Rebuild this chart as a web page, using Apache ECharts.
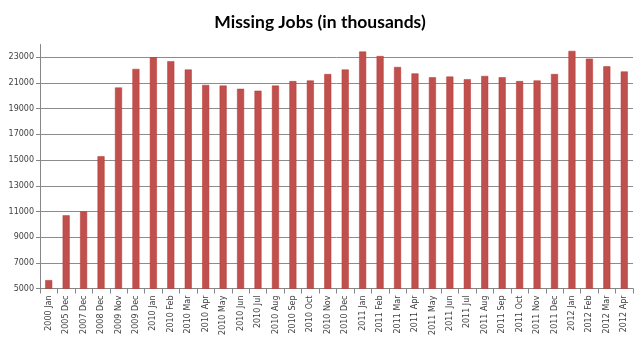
<!DOCTYPE html>
<html>
<head>
<meta charset="utf-8">
<script src="https://cdn.jsdelivr.net/npm/echarts@6/dist/echarts.min.js"></script>
<style>html,body{margin:0;padding:0;background:#fff;}#c{width:640px;height:343px;}</style>
</head>
<body>
<div id="c"></div>
<script>
const titleText = 'Missing Jobs (in thousands)';
const categories = ['2000 Jan','2005 Dec','2007 Dec','2008 Dec','2009 Nov','2009 Dec',
  '2010 Jan','2010 Feb','2010 Mar','2010 Apr','2010 May','2010 Jun','2010 Jul','2010 Aug','2010 Sep','2010 Oct','2010 Nov','2010 Dec',
  '2011 Jan','2011 Feb','2011 Mar','2011 Apr','2011 May','2011 Jun','2011 Jul','2011 Aug','2011 Sep','2011 Oct','2011 Nov','2011 Dec',
  '2012 Jan','2012 Feb','2012 Mar','2012 Apr'];
const missingJobs = [5650,10700,11000,15300,20650,22100,
  23000,22700,22050,20850,20800,20550,20400,20800,21150,21200,21700,22050,
  23450,23100,22250,21750,21450,21500,21300,21550,21450,21150,21200,21700,
  23500,22900,22300,21900];
const yMin = 5000, yMax = 24000, yStep = 2000;

// grid line colours: one per split line, the one at the (unlabelled) max is hidden
const nLines = Math.floor((yMax - yMin) / yStep) + 2;
const gridColors = [];
for (let i = 0; i < nLines; i++) gridColors.push(i === nLines - 1 ? 'rgba(0,0,0,0)' : '#8c8c8c');

const chart = echarts.init(document.getElementById('c'), null, {renderer:'canvas'});
chart.setOption({
  animation: false,
  backgroundColor: '#fff',
  title: {
    text: titleText, left: 'center', top: 8,
    textStyle: {fontFamily: 'Lato', fontWeight: 'bold', fontSize: 17.5, color: '#000'}
  },
  grid: {left: 40, right: 7, top: 44.5, bottom: 54.5, containLabel: false},
  xAxis: {
    type: 'category', data: categories,
    axisLine: {lineStyle: {color: '#868686', width: 1}},
    axisTick: {show: true, alignWithLabel: false, length: 5, lineStyle: {color: '#868686'}},
    axisLabel: {rotate: 90, interval: 0, fontFamily: 'DejaVu Sans', fontSize: 8, color: '#404040', margin: 7}
  },
  yAxis: {
    type: 'value', min: yMin, max: yMax, interval: yStep,
    axisLine: {show: true, lineStyle: {color: '#868686'}},
    axisTick: {show: true, length: 4, lineStyle: {color: '#868686'}},
    axisLabel: {fontFamily: 'DejaVu Sans', fontSize: 8, color: '#404040', margin: 6, showMaxLabel: false,
      formatter: function (v) { return String(v); }},
    splitLine: {show: true, lineStyle: {color: gridColors, width: 1}}
  },
  series: [{
    type: 'bar', data: missingJobs, barWidth: 7,
    itemStyle: {color: '#C0504D', borderColor: '#B8342F', borderWidth: 0.5}
  }]
});
</script>
</body>
</html>
